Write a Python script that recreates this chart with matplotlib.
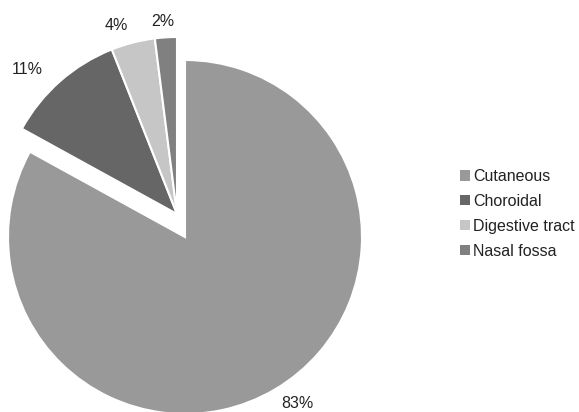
import matplotlib
matplotlib.use("Agg")
import matplotlib.pyplot as plt
from matplotlib.patches import Patch

categories = ["Cutaneous", "Choroidal", "Digestive tract", "Nasal fossa"]
values = [83, 11, 4, 2]
colors = ["#999999", "#666666", "#c6c6c6", "#808080"]

plt.rcParams['font.family'] = ['Liberation Sans', 'DejaVu Sans']

W, H = 579, 412
R = 177
CX, CY = 177, H - 214
# offset (pixels) of the separated main slice
MAIN_SHIFT = (8, -23)
# small nudges (pixels) to label positions
NUDGE = [(11, -6), (-17, 6), (-11, 5), (-2, 7)]

fig = plt.figure(figsize=(W / 100, H / 100), dpi=100)
ax = fig.add_axes([0, 0, 1, 1])

wedges, texts = ax.pie(values, colors=colors, startangle=90,
                       counterclock=False, center=(CX, CY), radius=R,
                       labels=[f"{v}%" for v in values], labeldistance=1.13,
                       wedgeprops=dict(edgecolor='white', linewidth=1.5),
                       textprops=dict(fontsize=11.5, color='#222222'),
                       frame=True)
wedges[0].set_center((CX + MAIN_SHIFT[0], CY + MAIN_SHIFT[1]))
for i, t in enumerate(texts):
    x, y = t.get_position()
    if i == 0:
        x += MAIN_SHIFT[0]
        y += MAIN_SHIFT[1]
    t.set_position((x + NUDGE[i][0], y - NUDGE[i][1]))
    t.set_ha('center')
    t.set_va('center')
ax.set_xlim(0, W)
ax.set_ylim(0, H)
ax.set_aspect('equal')
ax.axis('off')

handles = [Patch(facecolor=c, edgecolor='none') for c in colors]
leg = fig.legend(handles, categories, loc='center left', bbox_to_anchor=(460 / W, 1 - 214 / H),
                 frameon=False, fontsize=11.5, handlelength=0.6, handleheight=0.6,
                 handletextpad=0.2, labelspacing=0.62, borderpad=0, borderaxespad=0)
for t in leg.get_texts():
    t.set_color('#222222')

fig.savefig("out.png", dpi=100)
